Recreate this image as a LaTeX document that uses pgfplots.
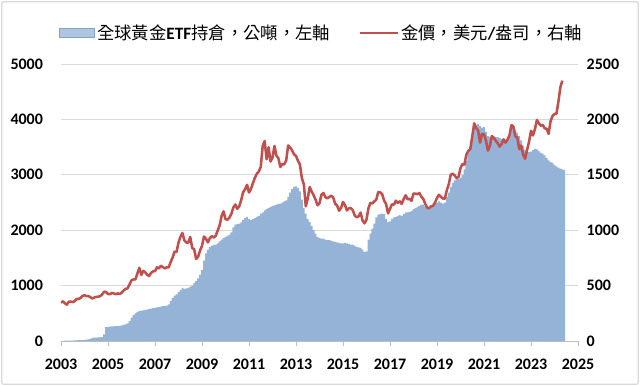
\documentclass[border=0pt]{standalone}
\usepackage{pgfplots}
\pgfplotsset{compat=1.18}
\usepackage{fontspec}
\setmainfont{Carlito}
\newfontfamily\cjk{Noto Sans CJK TC}
\definecolor{barblue}{RGB}{149,179,215}
\definecolor{goldred}{RGB}{192,80,77}
\definecolor{gridgray}{RGB}{217,217,217}
\definecolor{axgray}{RGB}{191,191,191}
\begin{document}
\begin{tikzpicture}[x=1pt,y=1pt]
\path[use as bounding box, fill=white] (-45.75,-33.75) rectangle (434.25,255.75);
\draw[gridgray, line width=0.9pt, rounded corners=1.5pt] (-44.5,-32.5) rectangle (433,254.5);
\begin{axis}[
  at={(0,0)}, anchor=south west,
  scale only axis, width=387.75pt, height=207.75pt,
  xmin=2003, xmax=2025, ymin=0, ymax=5000,
  xtick={2003,2005,...,2025},
  ytick={0,1000,...,5000},
  axis x line*=bottom, axis y line*=left,
  y axis line style={draw=none},
  x axis line style={axgray, line width=0.6pt},
  ytick style={draw=none},
  xtick style={axgray, line width=0.6pt},
  tick align=outside, major tick length=4pt,
  ymajorgrids, grid style={gridgray, line width=0.6pt},
  /pgf/number format/1000 sep={},
  /pgf/number format/assume math mode=true,
  tick label style={font=\fontsize{12}{14}\selectfont\bfseries},
  xticklabel style={yshift=-6pt},
  yticklabel style={xshift=-6pt},
]
\addplot[ybar, bar width=0.075, fill=barblue, draw=none]
  table[header=false, row sep=\\, x expr=2003+\coordindex/12, y index=0] {
3\\4\\5\\6\\7\\8\\9\\10\\12\\14\\16\\18\\
20\\25\\30\\40\\55\\60\\62\\64\\66\\70\\120\\250\\
255\\258\\262\\265\\268\\270\\275\\280\\290\\300\\320\\360\\
420\\470\\500\\520\\540\\550\\555\\560\\565\\575\\585\\595\\
600\\605\\610\\620\\630\\635\\640\\660\\720\\780\\820\\840\\
880\\920\\960\\940\\950\\960\\980\\1000\\1050\\1080\\1130\\1200\\
1280\\1450\\1580\\1650\\1700\\1720\\1730\\1740\\1760\\1800\\1830\\1860\\
1880\\1900\\1920\\1960\\2050\\2100\\2110\\2120\\2140\\2180\\2220\\2240\\
2200\\2180\\2200\\2220\\2240\\2260\\2300\\2320\\2360\\2380\\2400\\2420\\
2440\\2450\\2460\\2470\\2480\\2500\\2520\\2540\\2600\\2680\\2740\\2780\\
2790\\2760\\2700\\2550\\2400\\2300\\2200\\2150\\2080\\2000\\1940\\1880\\
1860\\1850\\1850\\1830\\1820\\1820\\1810\\1800\\1790\\1780\\1770\\1760\\
1760\\1770\\1760\\1750\\1740\\1740\\1720\\1700\\1690\\1680\\1650\\1610\\
1620\\1830\\1940\\2030\\2120\\2230\\2280\\2290\\2300\\2290\\2200\\2150\\
2160\\2200\\2230\\2240\\2260\\2270\\2260\\2290\\2320\\2320\\2330\\2350\\
2380\\2400\\2420\\2440\\2460\\2460\\2430\\2400\\2400\\2420\\2460\\2500\\
2500\\2520\\2500\\2480\\2500\\2600\\2680\\2780\\2850\\2900\\2920\\2920\\
2950\\3000\\3100\\3250\\3400\\3520\\3700\\3850\\3900\\3920\\3880\\3850\\
3860\\3780\\3700\\3680\\3700\\3690\\3680\\3680\\3660\\3650\\3640\\3640\\
3650\\3700\\3820\\3870\\3800\\3760\\3700\\3620\\3520\\3450\\3420\\3410\\
3420\\3450\\3470\\3460\\3430\\3400\\3380\\3350\\3300\\3260\\3230\\3220\\
3180\\3150\\3130\\3110\\3100\\3090\\
};
\end{axis}
\begin{axis}[
  at={(0,0)}, anchor=south west,
  scale only axis, width=387.75pt, height=207.75pt,
  xmin=2003, xmax=2025, ymin=0, ymax=2500,
  ytick={0,500,...,2500},
  axis x line=none, axis y line*=right,
  y axis line style={draw=none},
  ytick style={draw=none},
  /pgf/number format/1000 sep={},
  /pgf/number format/assume math mode=true,
  tick label style={font=\fontsize{12}{14}\selectfont\bfseries},
  yticklabel style={xshift=3pt},
  legend style={at={(0.505,1.113)}, anchor=center, draw=none, fill=none,
    legend columns=2, font=\fontsize{13}{15}\selectfont,
    /tikz/every even column/.append style={column sep=20pt},
    inner sep=0pt},
]
\addlegendimage{legend image code/.code={\draw[fill=barblue!75!white, draw=barblue!90!black, line width=0.4pt] (0pt,-3.5pt) rectangle (26pt,3.5pt);}}
\addlegendentry{{\cjk 全球黃金}\textbf{ETF}{\cjk 持倉，公噸，左軸}}
\addplot[goldred, line width=1.9pt, line join=round,
  legend image code/.code={\draw[goldred, line width=1.4pt] (0pt,0pt) -- (28pt,0pt);}]
  table[header=false, row sep=\\, x expr=2003+\coordindex/12, y index=0] {
345\\359\\340\\328\\355\\356\\351\\360\\379\\379\\389\\407\\
413\\405\\406\\395\\384\\392\\398\\400\\405\\420\\445\\442\\
424\\423\\434\\429\\422\\430\\424\\437\\456\\470\\476\\510\\
549\\555\\557\\610\\660\\596\\633\\620\\598\\586\\615\\629\\
631\\665\\655\\679\\667\\655\\665\\665\\712\\754\\806\\803\\
889\\940\\975\\909\\888\\889\\939\\839\\829\\740\\760\\816\\
858\\943\\924\\890\\928\\946\\934\\949\\996\\1043\\1127\\1170\\
1100\\1095\\1113\\1148\\1205\\1232\\1193\\1215\\1271\\1343\\1370\\1410\\
1340\\1372\\1424\\1473\\1510\\1529\\1572\\1760\\1805\\1640\\1749\\1620\\
1656\\1760\\1673\\1650\\1570\\1596\\1594\\1630\\1765\\1747\\1721\\1684\\
1671\\1627\\1593\\1470\\1414\\1215\\1286\\1390\\1349\\1316\\1275\\1225\\
1244\\1320\\1336\\1299\\1287\\1300\\1311\\1296\\1239\\1222\\1176\\1201\\
1255\\1227\\1179\\1198\\1199\\1181\\1131\\1117\\1125\\1159\\1086\\1062\\
1097\\1199\\1246\\1242\\1260\\1276\\1345\\1341\\1326\\1267\\1236\\1152\\
1192\\1234\\1231\\1266\\1246\\1260\\1237\\1283\\1315\\1280\\1283\\1265\\
1331\\1331\\1325\\1335\\1303\\1282\\1238\\1202\\1199\\1215\\1220\\1250\\
1291\\1320\\1300\\1286\\1284\\1360\\1413\\1500\\1510\\1495\\1471\\1480\\
1560\\1597\\1592\\1683\\1716\\1732\\1846\\1965\\1921\\1900\\1790\\1870\\
1867\\1808\\1718\\1760\\1850\\1834\\1807\\1785\\1755\\1777\\1820\\1790\\
1817\\1856\\1948\\1937\\1848\\1836\\1732\\1765\\1680\\1645\\1726\\1798\\
1898\\1855\\1912\\1995\\1965\\1943\\1950\\1919\\1916\\1870\\1985\\2030\\
2050\\2050\\2160\\2290\\2350\\
};
\addlegendentry{{\cjk 金價，美元}\textbf{/}{\cjk 盎司，右軸}}
\end{axis}
\end{tikzpicture}
\end{document}
